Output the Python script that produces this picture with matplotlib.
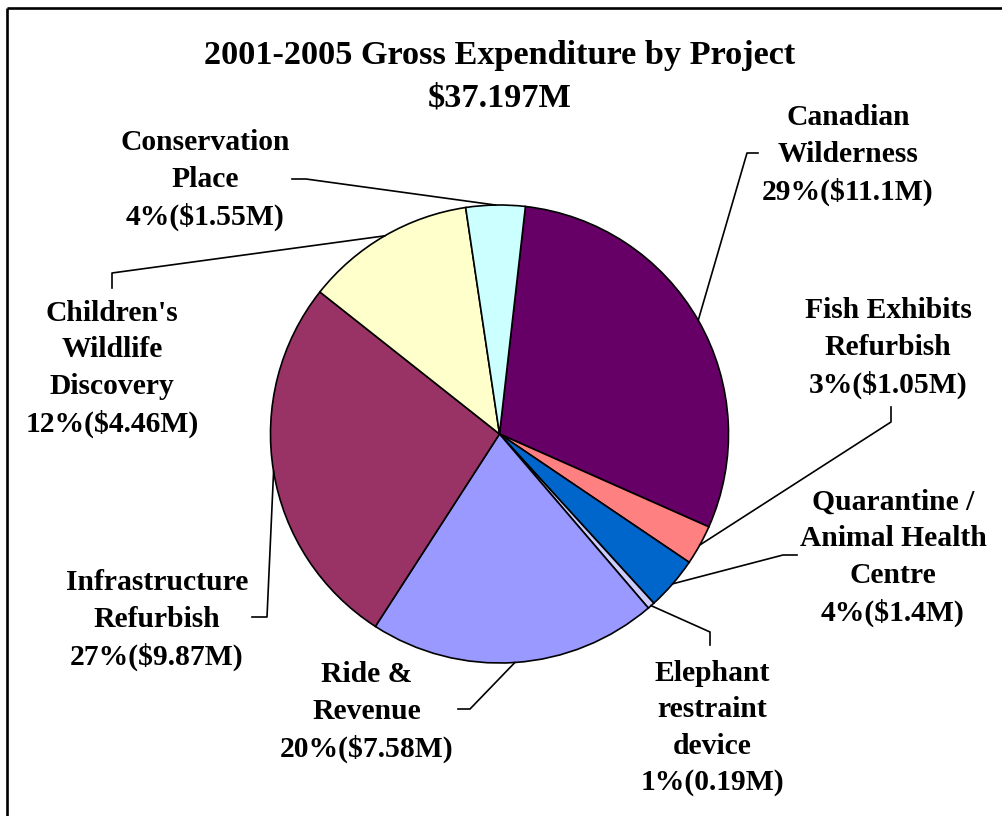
import numpy as np
import matplotlib
matplotlib.use("Agg")
import matplotlib.pyplot as plt

# gross expenditure per project, $M
projects = ["Canadian\nWilderness", "Fish Exhibits\nRefurbish", "Quarantine /\nAnimal Health\nCentre",
            "Elephant\nrestraint\ndevice", "Ride &\nRevenue", "Infrastructure\nRefurbish",
            "Children's\nWildlife\nDiscovery", "Conservation\nPlace"]
spend = [11.1, 1.05, 1.4, 0.19, 7.58, 9.87, 4.46, 1.55]
pct_text = ["29%", "3%", "4%", "1%", "20%", "27%", "12%", "4%"]
amount_text = ["$11.1M", "$1.05M", "$1.4M", "0.19M", "$7.58M", "$9.87M", "$4.46M", "$1.55M"]
colors = ["#660066", "#FF8080", "#0066CC", "#CCCCFF", "#9999FF", "#993366", "#FFFFCC", "#CCFFFF"]

W, H = 1002, 816
# label block centres and leader elbows, in pixels from top-left
label_pos = [(848, 155), (888, 348), (893, 558), (712, 728),
             (367, 712), (157, 620), (112, 369), (205, 180)]
elbows = [[(758, 153), (747, 153)], [(891, 407), (891, 422)], [(797, 555), (783, 555)],
          [(710, 645), (710, 632)], [(458, 709), (470, 709)], [(252, 617), (267, 617)],
          [(112, 288), (112, 273)], [(292, 179), (306, 179)]]

cx, cy, R = 499.5, H - 434, 229

fig = plt.figure(figsize=(W / 100, H / 100), dpi=100)
ax = fig.add_axes([0, 0, 1, 1])
wedges, _ = ax.pie(spend, colors=colors, startangle=83.5, counterclock=False,
                   center=(cx, cy), radius=R,
                   wedgeprops=dict(edgecolor="black", linewidth=1.2))
ax.set_xlim(0, W)
ax.set_ylim(0, H)
ax.set_aspect("equal")
ax.axis("off")

font = dict(family="Liberation Serif", weight="bold")

# outer border (only top and left edges fall inside the image)
ax.plot([7.5, W], [H - 7.5, H - 7.5], color="black", lw=1.9, solid_capstyle="butt")
ax.plot([7.5, 7.5], [0, H - 7.5], color="black", lw=1.9, solid_capstyle="butt")

ax.text(500, H - 77, "2001-2005 Gross Expenditure by Project\n$37.197M", ha="center", va="center",
        fontsize=24.7, linespacing=1.46, parse_math=False, **font)

for w, name, p, a, (lx, ly), elb in zip(wedges, projects, pct_text, amount_text, label_pos, elbows):
    ax.text(lx, H - ly, name + "\n" + p + "(" + a + ")", ha="center", va="center",
            fontsize=21.3, linespacing=1.45, parse_math=False, **font)
    mid = np.deg2rad((w.theta1 + w.theta2) / 2)
    ex, ey = cx + R * np.cos(mid), cy + R * np.sin(mid)
    xs = [elb[0][0], elb[1][0], ex]
    ys = [H - elb[0][1], H - elb[1][1], ey]
    ax.plot(xs, ys, color="black", lw=1.2)

fig.savefig("out.png", dpi=100, facecolor="white")
